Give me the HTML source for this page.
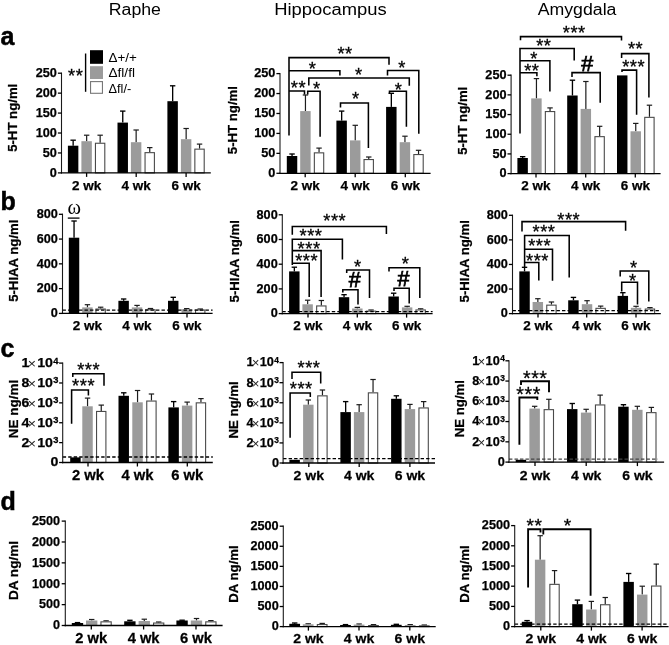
<!DOCTYPE html>
<html><head><meta charset="utf-8"><title>Figure</title>
<style>
html,body{margin:0;padding:0;background:#fff;}
svg{display:block;font-family:"Liberation Sans",sans-serif;fill:#000;}
</style></head>
<body>
<svg width="669" height="645" viewBox="0 0 669 645">
<rect x="0" y="0" width="669" height="645" fill="#fff"/>
<text x="108.74" y="14.8" font-size="17.3" font-weight="normal" textLength="52.25" lengthAdjust="spacingAndGlyphs" >Raphe</text>
<text x="274.18" y="14.8" font-size="17.3" font-weight="normal" textLength="112.45" lengthAdjust="spacingAndGlyphs" >Hippocampus</text>
<text x="537.66" y="14.8" font-size="17.3" font-weight="normal" textLength="78.78" lengthAdjust="spacingAndGlyphs" >Amygdala</text>
<text x="0.6" y="44.6" font-size="25" font-weight="bold" text-anchor="start" stroke="#000" stroke-width="0.5">a</text>
<text x="0.6" y="209.8" font-size="25" font-weight="bold" text-anchor="start" stroke="#000" stroke-width="0.5">b</text>
<text x="0.6" y="357" font-size="25" font-weight="bold" text-anchor="start" stroke="#000" stroke-width="0.5">c</text>
<text x="0.6" y="510.1" font-size="25" font-weight="bold" text-anchor="start" stroke="#000" stroke-width="0.5">d</text>
<line x1="73.15" y1="145.7" x2="73.15" y2="140.2" stroke="#000" stroke-width="1.35" />
<line x1="70.45" y1="140.2" x2="75.85" y2="140.2" stroke="#000" stroke-width="1.35" />
<rect x="67.9" y="145.7" width="10.45" height="27.2" fill="#000"/>
<line x1="86.65" y1="141.2" x2="86.65" y2="135.2" stroke="#1c1c1c" stroke-width="1.2" />
<line x1="83.95" y1="135.2" x2="89.35" y2="135.2" stroke="#1c1c1c" stroke-width="1.2" />
<rect x="81.4" y="141.2" width="10.45" height="31.7" fill="#9b9b9b"/>
<line x1="100.15" y1="142.7" x2="100.15" y2="135.2" stroke="#1c1c1c" stroke-width="1.2" />
<line x1="97.45" y1="135.2" x2="102.85" y2="135.2" stroke="#1c1c1c" stroke-width="1.2" />
<rect x="95.45" y="143.25" width="9.35" height="29.65" fill="#fff" stroke="#4a4a4a" stroke-width="1.1"/>
<line x1="122.75" y1="122.6" x2="122.75" y2="111.1" stroke="#000" stroke-width="1.35" />
<line x1="120.05" y1="111.1" x2="125.45" y2="111.1" stroke="#000" stroke-width="1.35" />
<rect x="117.5" y="122.6" width="10.45" height="50.3" fill="#000"/>
<line x1="136.15" y1="142.2" x2="136.15" y2="130" stroke="#1c1c1c" stroke-width="1.2" />
<line x1="133.45" y1="130" x2="138.85" y2="130" stroke="#1c1c1c" stroke-width="1.2" />
<rect x="130.9" y="142.2" width="10.45" height="30.7" fill="#9b9b9b"/>
<line x1="149.75" y1="152.1" x2="149.75" y2="147.6" stroke="#1c1c1c" stroke-width="1.2" />
<line x1="147.05" y1="147.6" x2="152.45" y2="147.6" stroke="#1c1c1c" stroke-width="1.2" />
<rect x="145.05" y="152.65" width="9.35" height="20.25" fill="#fff" stroke="#4a4a4a" stroke-width="1.1"/>
<line x1="172.65" y1="101.2" x2="172.65" y2="85.8" stroke="#000" stroke-width="1.35" />
<line x1="169.95" y1="85.8" x2="175.35" y2="85.8" stroke="#000" stroke-width="1.35" />
<rect x="167.4" y="101.2" width="10.45" height="71.7" fill="#000"/>
<line x1="186.15" y1="139.2" x2="186.15" y2="128.5" stroke="#1c1c1c" stroke-width="1.2" />
<line x1="183.45" y1="128.5" x2="188.85" y2="128.5" stroke="#1c1c1c" stroke-width="1.2" />
<rect x="180.9" y="139.2" width="10.45" height="33.7" fill="#9b9b9b"/>
<line x1="199.55" y1="148.6" x2="199.55" y2="144.1" stroke="#1c1c1c" stroke-width="1.2" />
<line x1="196.85" y1="144.1" x2="202.25" y2="144.1" stroke="#1c1c1c" stroke-width="1.2" />
<rect x="194.85" y="149.15" width="9.35" height="23.75" fill="#fff" stroke="#4a4a4a" stroke-width="1.1"/>
<line x1="61.5" y1="72.55" x2="61.5" y2="173.55" stroke="#1a1a1a" stroke-width="1.1" />
<line x1="60.85" y1="172.9" x2="210.8" y2="172.9" stroke="#000" stroke-width="1.3" />
<line x1="57.9" y1="172.9" x2="61.5" y2="172.9" stroke="#000" stroke-width="1.3" />
<text x="56.9" y="176.73" font-size="12.7" font-weight="bold" text-anchor="end" stroke="#000" stroke-width="0.25">0</text>
<line x1="57.9" y1="152.96" x2="61.5" y2="152.96" stroke="#000" stroke-width="1.3" />
<text x="56.9" y="156.79" font-size="12.7" font-weight="bold" text-anchor="end" stroke="#000" stroke-width="0.25">50</text>
<line x1="57.9" y1="133.02" x2="61.5" y2="133.02" stroke="#000" stroke-width="1.3" />
<text x="56.9" y="136.85" font-size="12.7" font-weight="bold" text-anchor="end" stroke="#000" stroke-width="0.25">100</text>
<line x1="57.9" y1="113.08" x2="61.5" y2="113.08" stroke="#000" stroke-width="1.3" />
<text x="56.9" y="116.91" font-size="12.7" font-weight="bold" text-anchor="end" stroke="#000" stroke-width="0.25">150</text>
<line x1="57.9" y1="93.14" x2="61.5" y2="93.14" stroke="#000" stroke-width="1.3" />
<text x="56.9" y="96.97" font-size="12.7" font-weight="bold" text-anchor="end" stroke="#000" stroke-width="0.25">200</text>
<line x1="57.9" y1="73.2" x2="61.5" y2="73.2" stroke="#000" stroke-width="1.3" />
<text x="56.9" y="77.03" font-size="12.7" font-weight="bold" text-anchor="end" stroke="#000" stroke-width="0.25">250</text>
<line x1="86.6" y1="172.9" x2="86.6" y2="176.9" stroke="#000" stroke-width="1.3" />
<text x="86.6" y="189.6" font-size="13.5" font-weight="bold" text-anchor="middle" stroke="#000" stroke-width="0.25">2 wk</text>
<line x1="136.2" y1="172.9" x2="136.2" y2="176.9" stroke="#000" stroke-width="1.3" />
<text x="136.2" y="189.6" font-size="13.5" font-weight="bold" text-anchor="middle" stroke="#000" stroke-width="0.25">4 wk</text>
<line x1="186.1" y1="172.9" x2="186.1" y2="176.9" stroke="#000" stroke-width="1.3" />
<text x="186.1" y="189.6" font-size="13.5" font-weight="bold" text-anchor="middle" stroke="#000" stroke-width="0.25">6 wk</text>
<text transform="translate(16.7,117.8) rotate(-90)" font-size="13.2" font-weight="bold" text-anchor="middle" stroke="#000" stroke-width="0.25">5-HT ng/ml</text>
<rect x="90" y="50.2" width="13" height="13.6" fill="#000"/>
<rect x="90" y="66.2" width="13" height="12.8" fill="#9b9b9b"/>
<rect x="90.55" y="81.6" width="11.9" height="11.7" fill="#fff" stroke="#777" stroke-width="1.1"/>
<line x1="85.6" y1="53.5" x2="85.6" y2="91.8" stroke="#000" stroke-width="1.4" />
<text x="75.78" y="82.19" font-size="18.3" font-weight="normal" text-anchor="middle" letter-spacing="0.55" stroke="#000" stroke-width="0.3">**</text>
<text x="108.5" y="62.2" font-size="12.7" font-weight="normal" textLength="28.36" lengthAdjust="spacingAndGlyphs" >Δ+/+</text>
<text x="108.49" y="77.4" font-size="12.7" font-weight="normal" textLength="26.44" lengthAdjust="spacingAndGlyphs" >Δfl/fl</text>
<text x="108.52" y="92.5" font-size="12.7" font-weight="normal" textLength="22.67" lengthAdjust="spacingAndGlyphs" >Δfl/-</text>
<line x1="292.05" y1="156" x2="292.05" y2="154" stroke="#000" stroke-width="1.35" />
<line x1="289.35" y1="154" x2="294.75" y2="154" stroke="#000" stroke-width="1.35" />
<rect x="286.8" y="156" width="10.45" height="17.3" fill="#000"/>
<line x1="305.45" y1="111.1" x2="305.45" y2="95" stroke="#1c1c1c" stroke-width="1.2" />
<line x1="302.75" y1="95" x2="308.15" y2="95" stroke="#1c1c1c" stroke-width="1.2" />
<rect x="300.2" y="111.1" width="10.45" height="62.2" fill="#9b9b9b"/>
<line x1="319.05" y1="152.3" x2="319.05" y2="148.1" stroke="#1c1c1c" stroke-width="1.2" />
<line x1="316.35" y1="148.1" x2="321.75" y2="148.1" stroke="#1c1c1c" stroke-width="1.2" />
<rect x="314.35" y="152.85" width="9.35" height="20.45" fill="#fff" stroke="#4a4a4a" stroke-width="1.1"/>
<line x1="341.65" y1="120.6" x2="341.65" y2="111.1" stroke="#000" stroke-width="1.35" />
<line x1="338.95" y1="111.1" x2="344.35" y2="111.1" stroke="#000" stroke-width="1.35" />
<rect x="336.4" y="120.6" width="10.45" height="52.7" fill="#000"/>
<line x1="355.25" y1="140.4" x2="355.25" y2="125.3" stroke="#1c1c1c" stroke-width="1.2" />
<line x1="352.55" y1="125.3" x2="357.95" y2="125.3" stroke="#1c1c1c" stroke-width="1.2" />
<rect x="350" y="140.4" width="10.45" height="32.9" fill="#9b9b9b"/>
<line x1="368.75" y1="159" x2="368.75" y2="157" stroke="#1c1c1c" stroke-width="1.2" />
<line x1="366.05" y1="157" x2="371.45" y2="157" stroke="#1c1c1c" stroke-width="1.2" />
<rect x="364.05" y="159.55" width="9.35" height="13.75" fill="#fff" stroke="#4a4a4a" stroke-width="1.1"/>
<line x1="391.35" y1="106.9" x2="391.35" y2="93.3" stroke="#000" stroke-width="1.35" />
<line x1="388.65" y1="93.3" x2="394.05" y2="93.3" stroke="#000" stroke-width="1.35" />
<rect x="386.1" y="106.9" width="10.45" height="66.4" fill="#000"/>
<line x1="404.95" y1="142.2" x2="404.95" y2="136.2" stroke="#1c1c1c" stroke-width="1.2" />
<line x1="402.25" y1="136.2" x2="407.65" y2="136.2" stroke="#1c1c1c" stroke-width="1.2" />
<rect x="399.7" y="142.2" width="10.45" height="31.1" fill="#9b9b9b"/>
<line x1="418.55" y1="154" x2="418.55" y2="150.3" stroke="#1c1c1c" stroke-width="1.2" />
<line x1="415.85" y1="150.3" x2="421.25" y2="150.3" stroke="#1c1c1c" stroke-width="1.2" />
<rect x="413.85" y="154.55" width="9.35" height="18.75" fill="#fff" stroke="#4a4a4a" stroke-width="1.1"/>
<line x1="280" y1="72.95" x2="280" y2="173.95" stroke="#1a1a1a" stroke-width="1.1" />
<line x1="279.35" y1="173.3" x2="430.6" y2="173.3" stroke="#000" stroke-width="1.3" />
<line x1="276.4" y1="173.3" x2="280" y2="173.3" stroke="#000" stroke-width="1.3" />
<text x="275.4" y="177.13" font-size="12.7" font-weight="bold" text-anchor="end" stroke="#000" stroke-width="0.25">0</text>
<line x1="276.4" y1="153.36" x2="280" y2="153.36" stroke="#000" stroke-width="1.3" />
<text x="275.4" y="157.19" font-size="12.7" font-weight="bold" text-anchor="end" stroke="#000" stroke-width="0.25">50</text>
<line x1="276.4" y1="133.42" x2="280" y2="133.42" stroke="#000" stroke-width="1.3" />
<text x="275.4" y="137.25" font-size="12.7" font-weight="bold" text-anchor="end" stroke="#000" stroke-width="0.25">100</text>
<line x1="276.4" y1="113.48" x2="280" y2="113.48" stroke="#000" stroke-width="1.3" />
<text x="275.4" y="117.31" font-size="12.7" font-weight="bold" text-anchor="end" stroke="#000" stroke-width="0.25">150</text>
<line x1="276.4" y1="93.54" x2="280" y2="93.54" stroke="#000" stroke-width="1.3" />
<text x="275.4" y="97.37" font-size="12.7" font-weight="bold" text-anchor="end" stroke="#000" stroke-width="0.25">200</text>
<line x1="276.4" y1="73.6" x2="280" y2="73.6" stroke="#000" stroke-width="1.3" />
<text x="275.4" y="77.43" font-size="12.7" font-weight="bold" text-anchor="end" stroke="#000" stroke-width="0.25">250</text>
<line x1="305.2" y1="173.3" x2="305.2" y2="177.3" stroke="#000" stroke-width="1.3" />
<text x="305.2" y="189.6" font-size="13.5" font-weight="bold" text-anchor="middle" stroke="#000" stroke-width="0.25">2 wk</text>
<line x1="355.2" y1="173.3" x2="355.2" y2="177.3" stroke="#000" stroke-width="1.3" />
<text x="355.2" y="189.6" font-size="13.5" font-weight="bold" text-anchor="middle" stroke="#000" stroke-width="0.25">4 wk</text>
<line x1="405.3" y1="173.3" x2="405.3" y2="177.3" stroke="#000" stroke-width="1.3" />
<text x="405.3" y="189.6" font-size="13.5" font-weight="bold" text-anchor="middle" stroke="#000" stroke-width="0.25">6 wk</text>
<text transform="translate(236.6,120.1) rotate(-90)" font-size="13.2" font-weight="bold" text-anchor="middle" stroke="#000" stroke-width="0.25">5-HT ng/ml</text>
<polyline points="289,135.5 289,57.6 389,57.6 389,64.7" fill="none" stroke="#000" stroke-width="1.55" stroke-linejoin="miter"/>
<text x="345.08" y="60.39" font-size="18.3" font-weight="normal" text-anchor="middle" letter-spacing="0.55" stroke="#000" stroke-width="0.3">**</text>
<polyline points="289,70.7 339.9,70.7 339.9,75.6" fill="none" stroke="#000" stroke-width="1.55" stroke-linejoin="miter"/>
<text x="312.58" y="74.69" font-size="18.3" font-weight="normal" text-anchor="middle" letter-spacing="0.55" stroke="#000" stroke-width="0.3">*</text>
<polyline points="289,90.9 304.5,90.9 304.5,94.5" fill="none" stroke="#000" stroke-width="1.55" stroke-linejoin="miter"/>
<text x="298.48" y="93.99" font-size="18.3" font-weight="normal" text-anchor="middle" letter-spacing="0.55" stroke="#000" stroke-width="0.3">**</text>
<polyline points="308.8,85.6 308.8,78 409.3,78 409.3,85.8" fill="none" stroke="#000" stroke-width="1.55" stroke-linejoin="miter"/>
<text x="358.78" y="81.39" font-size="18.3" font-weight="normal" text-anchor="middle" letter-spacing="0.55" stroke="#000" stroke-width="0.3">*</text>
<polyline points="307.7,94.5 307.7,91.3 320.1,91.3 320.1,136.7" fill="none" stroke="#000" stroke-width="1.55" stroke-linejoin="miter"/>
<text x="316.88" y="94.79" font-size="18.3" font-weight="normal" text-anchor="middle" letter-spacing="0.55" stroke="#000" stroke-width="0.3">*</text>
<polyline points="340.5,107.5 340.5,102.9 368.4,102.9 368.4,147.9" fill="none" stroke="#000" stroke-width="1.55" stroke-linejoin="miter"/>
<text x="355.78" y="105.19" font-size="18.3" font-weight="normal" text-anchor="middle" letter-spacing="0.55" stroke="#000" stroke-width="0.3">*</text>
<polyline points="387.5,75.5 387.5,70.5 418.8,70.5 418.8,133.7" fill="none" stroke="#000" stroke-width="1.55" stroke-linejoin="miter"/>
<text x="402.18" y="74.09" font-size="18.3" font-weight="normal" text-anchor="middle" letter-spacing="0.55" stroke="#000" stroke-width="0.3">*</text>
<polyline points="389.5,94 389.5,91.3 406.4,91.3 406.4,126.8" fill="none" stroke="#000" stroke-width="1.55" stroke-linejoin="miter"/>
<text x="398.48" y="95.99" font-size="18.3" font-weight="normal" text-anchor="middle" letter-spacing="0.55" stroke="#000" stroke-width="0.3">*</text>
<line x1="522.65" y1="158" x2="522.65" y2="156.7" stroke="#000" stroke-width="1.35" />
<line x1="519.95" y1="156.7" x2="525.35" y2="156.7" stroke="#000" stroke-width="1.35" />
<rect x="517.4" y="158" width="10.45" height="15.6" fill="#000"/>
<line x1="536.45" y1="98.4" x2="536.45" y2="78.6" stroke="#1c1c1c" stroke-width="1.2" />
<line x1="533.75" y1="78.6" x2="539.15" y2="78.6" stroke="#1c1c1c" stroke-width="1.2" />
<rect x="531.2" y="98.4" width="10.45" height="75.2" fill="#9b9b9b"/>
<line x1="550.05" y1="111" x2="550.05" y2="107.9" stroke="#1c1c1c" stroke-width="1.2" />
<line x1="547.35" y1="107.9" x2="552.75" y2="107.9" stroke="#1c1c1c" stroke-width="1.2" />
<rect x="545.35" y="111.55" width="9.35" height="62.05" fill="#fff" stroke="#4a4a4a" stroke-width="1.1"/>
<line x1="572.45" y1="95.5" x2="572.45" y2="80.2" stroke="#000" stroke-width="1.35" />
<line x1="569.75" y1="80.2" x2="575.15" y2="80.2" stroke="#000" stroke-width="1.35" />
<rect x="567.2" y="95.5" width="10.45" height="78.1" fill="#000"/>
<line x1="585.85" y1="108.9" x2="585.85" y2="81.5" stroke="#1c1c1c" stroke-width="1.2" />
<line x1="583.15" y1="81.5" x2="588.55" y2="81.5" stroke="#1c1c1c" stroke-width="1.2" />
<rect x="580.6" y="108.9" width="10.45" height="64.7" fill="#9b9b9b"/>
<line x1="599.65" y1="136.1" x2="599.65" y2="126.3" stroke="#1c1c1c" stroke-width="1.2" />
<line x1="596.95" y1="126.3" x2="602.35" y2="126.3" stroke="#1c1c1c" stroke-width="1.2" />
<rect x="594.95" y="136.65" width="9.35" height="36.95" fill="#fff" stroke="#4a4a4a" stroke-width="1.1"/>
<rect x="617" y="75.4" width="10.45" height="98.2" fill="#000"/>
<line x1="635.75" y1="131.3" x2="635.75" y2="123.4" stroke="#1c1c1c" stroke-width="1.2" />
<line x1="633.05" y1="123.4" x2="638.45" y2="123.4" stroke="#1c1c1c" stroke-width="1.2" />
<rect x="630.5" y="131.3" width="10.45" height="42.3" fill="#9b9b9b"/>
<line x1="649.45" y1="116.8" x2="649.45" y2="105.2" stroke="#1c1c1c" stroke-width="1.2" />
<line x1="646.75" y1="105.2" x2="652.15" y2="105.2" stroke="#1c1c1c" stroke-width="1.2" />
<rect x="644.75" y="117.35" width="9.35" height="56.25" fill="#fff" stroke="#4a4a4a" stroke-width="1.1"/>
<line x1="511.1" y1="74.55" x2="511.1" y2="174.25" stroke="#1a1a1a" stroke-width="1.1" />
<line x1="510.45" y1="173.6" x2="660.6" y2="173.6" stroke="#000" stroke-width="1.3" />
<line x1="507.5" y1="173.6" x2="511.1" y2="173.6" stroke="#000" stroke-width="1.3" />
<text x="506.5" y="177.43" font-size="12.7" font-weight="bold" text-anchor="end" stroke="#000" stroke-width="0.25">0</text>
<line x1="507.5" y1="153.92" x2="511.1" y2="153.92" stroke="#000" stroke-width="1.3" />
<text x="506.5" y="157.75" font-size="12.7" font-weight="bold" text-anchor="end" stroke="#000" stroke-width="0.25">50</text>
<line x1="507.5" y1="134.24" x2="511.1" y2="134.24" stroke="#000" stroke-width="1.3" />
<text x="506.5" y="138.07" font-size="12.7" font-weight="bold" text-anchor="end" stroke="#000" stroke-width="0.25">100</text>
<line x1="507.5" y1="114.56" x2="511.1" y2="114.56" stroke="#000" stroke-width="1.3" />
<text x="506.5" y="118.39" font-size="12.7" font-weight="bold" text-anchor="end" stroke="#000" stroke-width="0.25">150</text>
<line x1="507.5" y1="94.88" x2="511.1" y2="94.88" stroke="#000" stroke-width="1.3" />
<text x="506.5" y="98.71" font-size="12.7" font-weight="bold" text-anchor="end" stroke="#000" stroke-width="0.25">200</text>
<line x1="507.5" y1="75.2" x2="511.1" y2="75.2" stroke="#000" stroke-width="1.3" />
<text x="506.5" y="79.03" font-size="12.7" font-weight="bold" text-anchor="end" stroke="#000" stroke-width="0.25">250</text>
<line x1="536" y1="173.6" x2="536" y2="177.6" stroke="#000" stroke-width="1.3" />
<text x="536" y="189.8" font-size="13.5" font-weight="bold" text-anchor="middle" stroke="#000" stroke-width="0.25">2 wk</text>
<line x1="585.7" y1="173.6" x2="585.7" y2="177.6" stroke="#000" stroke-width="1.3" />
<text x="585.7" y="189.8" font-size="13.5" font-weight="bold" text-anchor="middle" stroke="#000" stroke-width="0.25">4 wk</text>
<line x1="635.3" y1="173.6" x2="635.3" y2="177.6" stroke="#000" stroke-width="1.3" />
<text x="635.3" y="189.8" font-size="13.5" font-weight="bold" text-anchor="middle" stroke="#000" stroke-width="0.25">6 wk</text>
<text transform="translate(466.7,120.8) rotate(-90)" font-size="13.2" font-weight="bold" text-anchor="middle" stroke="#000" stroke-width="0.25">5-HT ng/ml</text>
<polyline points="520.5,40.3 520.5,36.6 621.5,36.6 621.5,40.4" fill="none" stroke="#000" stroke-width="1.55" stroke-linejoin="miter"/>
<text x="574.28" y="38.99" font-size="18.3" font-weight="normal" text-anchor="middle" letter-spacing="0.55" stroke="#000" stroke-width="0.3">***</text>
<polyline points="520,133.5 520,48.4 574.2,48.4 574.2,60.6" fill="none" stroke="#000" stroke-width="1.55" stroke-linejoin="miter"/>
<text x="543.88" y="52.29" font-size="18.3" font-weight="normal" text-anchor="middle" letter-spacing="0.55" stroke="#000" stroke-width="0.3">**</text>
<polyline points="520,60.8 549.9,60.8 549.9,91.4" fill="none" stroke="#000" stroke-width="1.55" stroke-linejoin="miter"/>
<text x="533.98" y="65.19" font-size="18.3" font-weight="normal" text-anchor="middle" letter-spacing="0.55" stroke="#000" stroke-width="0.3">*</text>
<polyline points="520,72.8 536.9,72.8 536.9,76.2" fill="none" stroke="#000" stroke-width="1.55" stroke-linejoin="miter"/>
<text x="531.88" y="77.39" font-size="18.3" font-weight="normal" text-anchor="middle" letter-spacing="0.55" stroke="#000" stroke-width="0.3">**</text>
<polyline points="572,76.9 572,72.6 600.2,72.6 600.2,102.8" fill="none" stroke="#000" stroke-width="1.55" stroke-linejoin="miter"/>
<text x="587.3" y="70.95" font-size="21.5" font-weight="normal" text-anchor="middle" stroke="#000" stroke-width="0.75">#</text>
<polyline points="621.6,58 621.6,53.6 648.9,53.6 648.9,97.4" fill="none" stroke="#000" stroke-width="1.55" stroke-linejoin="miter"/>
<text x="635.58" y="55.49" font-size="18.3" font-weight="normal" text-anchor="middle" letter-spacing="0.55" stroke="#000" stroke-width="0.3">**</text>
<polyline points="622,72 622,70.1 636.6,70.1 636.6,114.8" fill="none" stroke="#000" stroke-width="1.55" stroke-linejoin="miter"/>
<text x="633.68" y="72.69" font-size="18.3" font-weight="normal" text-anchor="middle" letter-spacing="0.55" stroke="#000" stroke-width="0.3">***</text>
<line x1="74.05" y1="237.7" x2="74.05" y2="221" stroke="#000" stroke-width="1.35" />
<line x1="71.35" y1="221" x2="76.75" y2="221" stroke="#000" stroke-width="1.35" />
<rect x="68.8" y="237.7" width="10.45" height="75.7" fill="#000"/>
<line x1="87.45" y1="307.4" x2="87.45" y2="304.7" stroke="#1c1c1c" stroke-width="1.2" />
<line x1="84.75" y1="304.7" x2="90.15" y2="304.7" stroke="#1c1c1c" stroke-width="1.2" />
<rect x="82.2" y="307.4" width="10.45" height="6" fill="#9b9b9b"/>
<line x1="100.65" y1="308.5" x2="100.65" y2="307.2" stroke="#1c1c1c" stroke-width="1.2" />
<line x1="97.95" y1="307.2" x2="103.35" y2="307.2" stroke="#1c1c1c" stroke-width="1.2" />
<rect x="95.95" y="309.05" width="9.35" height="4.35" fill="#fff" stroke="#4a4a4a" stroke-width="1.1"/>
<line x1="123.65" y1="300.8" x2="123.65" y2="299" stroke="#000" stroke-width="1.35" />
<line x1="120.95" y1="299" x2="126.35" y2="299" stroke="#000" stroke-width="1.35" />
<rect x="118.4" y="300.8" width="10.45" height="12.6" fill="#000"/>
<line x1="137.05" y1="307.4" x2="137.05" y2="305.4" stroke="#1c1c1c" stroke-width="1.2" />
<line x1="134.35" y1="305.4" x2="139.75" y2="305.4" stroke="#1c1c1c" stroke-width="1.2" />
<rect x="131.8" y="307.4" width="10.45" height="6" fill="#9b9b9b"/>
<line x1="150.45" y1="309.2" x2="150.45" y2="308.5" stroke="#1c1c1c" stroke-width="1.2" />
<line x1="147.75" y1="308.5" x2="153.15" y2="308.5" stroke="#1c1c1c" stroke-width="1.2" />
<rect x="145.75" y="309.75" width="9.35" height="3.65" fill="#fff" stroke="#4a4a4a" stroke-width="1.1"/>
<line x1="173.25" y1="300.8" x2="173.25" y2="297.3" stroke="#000" stroke-width="1.35" />
<line x1="170.55" y1="297.3" x2="175.95" y2="297.3" stroke="#000" stroke-width="1.35" />
<rect x="168" y="300.8" width="10.45" height="12.6" fill="#000"/>
<line x1="186.75" y1="309.2" x2="186.75" y2="308.6" stroke="#1c1c1c" stroke-width="1.2" />
<line x1="184.05" y1="308.6" x2="189.45" y2="308.6" stroke="#1c1c1c" stroke-width="1.2" />
<rect x="181.5" y="309.2" width="10.45" height="4.2" fill="#9b9b9b"/>
<line x1="200.25" y1="309.5" x2="200.25" y2="309" stroke="#1c1c1c" stroke-width="1.2" />
<line x1="197.55" y1="309" x2="202.95" y2="309" stroke="#1c1c1c" stroke-width="1.2" />
<rect x="195.55" y="310.05" width="9.35" height="3.35" fill="#fff" stroke="#4a4a4a" stroke-width="1.1"/>
<line x1="62.5" y1="310.2" x2="212.6" y2="310.2" stroke="#000" stroke-width="1.2" stroke-dasharray="3.4 2.1"/>
<line x1="62.5" y1="213.65" x2="62.5" y2="314.05" stroke="#1a1a1a" stroke-width="1.1" />
<line x1="61.85" y1="313.4" x2="212.6" y2="313.4" stroke="#000" stroke-width="1.3" />
<line x1="58.9" y1="313.4" x2="62.5" y2="313.4" stroke="#000" stroke-width="1.3" />
<text x="57.9" y="317.23" font-size="12.7" font-weight="bold" text-anchor="end" stroke="#000" stroke-width="0.25">0</text>
<line x1="58.9" y1="288.62" x2="62.5" y2="288.62" stroke="#000" stroke-width="1.3" />
<text x="57.9" y="292.46" font-size="12.7" font-weight="bold" text-anchor="end" stroke="#000" stroke-width="0.25">200</text>
<line x1="58.9" y1="263.85" x2="62.5" y2="263.85" stroke="#000" stroke-width="1.3" />
<text x="57.9" y="267.68" font-size="12.7" font-weight="bold" text-anchor="end" stroke="#000" stroke-width="0.25">400</text>
<line x1="58.9" y1="239.07" x2="62.5" y2="239.07" stroke="#000" stroke-width="1.3" />
<text x="57.9" y="242.91" font-size="12.7" font-weight="bold" text-anchor="end" stroke="#000" stroke-width="0.25">600</text>
<line x1="58.9" y1="214.3" x2="62.5" y2="214.3" stroke="#000" stroke-width="1.3" />
<text x="57.9" y="218.13" font-size="12.7" font-weight="bold" text-anchor="end" stroke="#000" stroke-width="0.25">800</text>
<line x1="87.5" y1="313.4" x2="87.5" y2="317.4" stroke="#000" stroke-width="1.3" />
<text x="87.5" y="330" font-size="13.5" font-weight="bold" text-anchor="middle" stroke="#000" stroke-width="0.25">2 wk</text>
<line x1="137" y1="313.4" x2="137" y2="317.4" stroke="#000" stroke-width="1.3" />
<text x="137" y="330" font-size="13.5" font-weight="bold" text-anchor="middle" stroke="#000" stroke-width="0.25">4 wk</text>
<line x1="187" y1="313.4" x2="187" y2="317.4" stroke="#000" stroke-width="1.3" />
<text x="187" y="330" font-size="13.5" font-weight="bold" text-anchor="middle" stroke="#000" stroke-width="0.25">6 wk</text>
<text transform="translate(17.8,260.7) rotate(-90)" font-size="13.2" font-weight="bold" text-anchor="middle" stroke="#000" stroke-width="0.25">5-HIAA ng/ml</text>
<line x1="67.8" y1="218.1" x2="79.5" y2="218.1" stroke="#000" stroke-width="1.3" />
<text x="74.2" y="214.2" font-size="20.5" font-weight="normal" text-anchor="middle" font-family="Liberation Serif,serif">ω</text>
<line x1="294.35" y1="271.4" x2="294.35" y2="267.2" stroke="#000" stroke-width="1.35" />
<line x1="291.65" y1="267.2" x2="297.05" y2="267.2" stroke="#000" stroke-width="1.35" />
<rect x="289.1" y="271.4" width="10.45" height="42.2" fill="#000"/>
<line x1="307.65" y1="304.3" x2="307.65" y2="300.2" stroke="#1c1c1c" stroke-width="1.2" />
<line x1="304.95" y1="300.2" x2="310.35" y2="300.2" stroke="#1c1c1c" stroke-width="1.2" />
<rect x="302.4" y="304.3" width="10.45" height="9.3" fill="#9b9b9b"/>
<line x1="321.35" y1="305.4" x2="321.35" y2="300.5" stroke="#1c1c1c" stroke-width="1.2" />
<line x1="318.65" y1="300.5" x2="324.05" y2="300.5" stroke="#1c1c1c" stroke-width="1.2" />
<rect x="316.65" y="305.95" width="9.35" height="7.65" fill="#fff" stroke="#4a4a4a" stroke-width="1.1"/>
<line x1="344.05" y1="297.2" x2="344.05" y2="294.7" stroke="#000" stroke-width="1.35" />
<line x1="341.35" y1="294.7" x2="346.75" y2="294.7" stroke="#000" stroke-width="1.35" />
<rect x="338.8" y="297.2" width="10.45" height="16.4" fill="#000"/>
<line x1="357.35" y1="308.5" x2="357.35" y2="307.4" stroke="#1c1c1c" stroke-width="1.2" />
<line x1="354.65" y1="307.4" x2="360.05" y2="307.4" stroke="#1c1c1c" stroke-width="1.2" />
<rect x="352.1" y="308.5" width="10.45" height="5.1" fill="#9b9b9b"/>
<line x1="371.05" y1="310.6" x2="371.05" y2="310" stroke="#1c1c1c" stroke-width="1.2" />
<line x1="368.35" y1="310" x2="373.75" y2="310" stroke="#1c1c1c" stroke-width="1.2" />
<rect x="366.35" y="311.15" width="9.35" height="2.45" fill="#fff" stroke="#4a4a4a" stroke-width="1.1"/>
<line x1="393.65" y1="296.5" x2="393.65" y2="293.2" stroke="#000" stroke-width="1.35" />
<line x1="390.95" y1="293.2" x2="396.35" y2="293.2" stroke="#000" stroke-width="1.35" />
<rect x="388.4" y="296.5" width="10.45" height="17.1" fill="#000"/>
<line x1="407.15" y1="307.4" x2="407.15" y2="306.3" stroke="#1c1c1c" stroke-width="1.2" />
<line x1="404.45" y1="306.3" x2="409.85" y2="306.3" stroke="#1c1c1c" stroke-width="1.2" />
<rect x="401.9" y="307.4" width="10.45" height="6.2" fill="#9b9b9b"/>
<line x1="420.65" y1="309.4" x2="420.65" y2="308.8" stroke="#1c1c1c" stroke-width="1.2" />
<line x1="417.95" y1="308.8" x2="423.35" y2="308.8" stroke="#1c1c1c" stroke-width="1.2" />
<rect x="415.95" y="309.95" width="9.35" height="3.65" fill="#fff" stroke="#4a4a4a" stroke-width="1.1"/>
<line x1="282.3" y1="311.6" x2="432.6" y2="311.6" stroke="#000" stroke-width="1.2" stroke-dasharray="3.4 2.1"/>
<line x1="282.3" y1="214.15" x2="282.3" y2="314.25" stroke="#1a1a1a" stroke-width="1.1" />
<line x1="281.65" y1="313.6" x2="432.6" y2="313.6" stroke="#000" stroke-width="1.3" />
<line x1="278.7" y1="313.6" x2="282.3" y2="313.6" stroke="#000" stroke-width="1.3" />
<text x="277.7" y="317.43" font-size="12.7" font-weight="bold" text-anchor="end" stroke="#000" stroke-width="0.25">0</text>
<line x1="278.7" y1="288.9" x2="282.3" y2="288.9" stroke="#000" stroke-width="1.3" />
<text x="277.7" y="292.73" font-size="12.7" font-weight="bold" text-anchor="end" stroke="#000" stroke-width="0.25">200</text>
<line x1="278.7" y1="264.2" x2="282.3" y2="264.2" stroke="#000" stroke-width="1.3" />
<text x="277.7" y="268.03" font-size="12.7" font-weight="bold" text-anchor="end" stroke="#000" stroke-width="0.25">400</text>
<line x1="278.7" y1="239.5" x2="282.3" y2="239.5" stroke="#000" stroke-width="1.3" />
<text x="277.7" y="243.33" font-size="12.7" font-weight="bold" text-anchor="end" stroke="#000" stroke-width="0.25">600</text>
<line x1="278.7" y1="214.8" x2="282.3" y2="214.8" stroke="#000" stroke-width="1.3" />
<text x="277.7" y="218.63" font-size="12.7" font-weight="bold" text-anchor="end" stroke="#000" stroke-width="0.25">800</text>
<line x1="308" y1="313.6" x2="308" y2="317.6" stroke="#000" stroke-width="1.3" />
<text x="308" y="330.3" font-size="13.5" font-weight="bold" text-anchor="middle" stroke="#000" stroke-width="0.25">2 wk</text>
<line x1="357.3" y1="313.6" x2="357.3" y2="317.6" stroke="#000" stroke-width="1.3" />
<text x="357.3" y="330.3" font-size="13.5" font-weight="bold" text-anchor="middle" stroke="#000" stroke-width="0.25">4 wk</text>
<line x1="406.6" y1="313.6" x2="406.6" y2="317.6" stroke="#000" stroke-width="1.3" />
<text x="406.6" y="330.3" font-size="13.5" font-weight="bold" text-anchor="middle" stroke="#000" stroke-width="0.25">6 wk</text>
<text transform="translate(238.6,261.3) rotate(-90)" font-size="13.2" font-weight="bold" text-anchor="middle" stroke="#000" stroke-width="0.25">5-HIAA ng/ml</text>
<polyline points="292.3,234.7 292.3,226.5 386.4,226.5 386.4,234.1" fill="none" stroke="#000" stroke-width="1.55" stroke-linejoin="miter"/>
<text x="334.78" y="227.19" font-size="18.3" font-weight="normal" text-anchor="middle" letter-spacing="0.55" stroke="#000" stroke-width="0.3">***</text>
<polyline points="292.3,265 292.3,239.3 342.4,239.3 342.4,259.5" fill="none" stroke="#000" stroke-width="1.55" stroke-linejoin="miter"/>
<text x="310.98" y="241.69" font-size="18.3" font-weight="normal" text-anchor="middle" letter-spacing="0.55" stroke="#000" stroke-width="0.3">***</text>
<polyline points="292.3,250.6 321.1,250.6 321.1,297" fill="none" stroke="#000" stroke-width="1.55" stroke-linejoin="miter"/>
<text x="309.08" y="255.39" font-size="18.3" font-weight="normal" text-anchor="middle" letter-spacing="0.55" stroke="#000" stroke-width="0.3">***</text>
<polyline points="292.3,263.2 309.2,263.2 309.2,297" fill="none" stroke="#000" stroke-width="1.55" stroke-linejoin="miter"/>
<text x="306.68" y="267.29" font-size="18.3" font-weight="normal" text-anchor="middle" letter-spacing="0.55" stroke="#000" stroke-width="0.3">***</text>
<polyline points="346.7,273 346.7,269.9 369.5,269.9 369.5,298" fill="none" stroke="#000" stroke-width="1.55" stroke-linejoin="miter"/>
<text x="357.88" y="272.79" font-size="18.3" font-weight="normal" text-anchor="middle" letter-spacing="0.55" stroke="#000" stroke-width="0.3">*</text>
<polyline points="342.8,292.4 342.8,289.8 358,289.8 358,304.6" fill="none" stroke="#000" stroke-width="1.55" stroke-linejoin="miter"/>
<text x="354.7" y="287.35" font-size="21.5" font-weight="normal" text-anchor="middle" stroke="#000" stroke-width="0.75">#</text>
<polyline points="389,271.4 389,267.7 419.8,267.7 419.8,298" fill="none" stroke="#000" stroke-width="1.55" stroke-linejoin="miter"/>
<text x="405.58" y="270.19" font-size="18.3" font-weight="normal" text-anchor="middle" letter-spacing="0.55" stroke="#000" stroke-width="0.3">*</text>
<polyline points="394,291.1 394,288.3 409.2,288.3 409.2,303.5" fill="none" stroke="#000" stroke-width="1.55" stroke-linejoin="miter"/>
<text x="403.6" y="285.65" font-size="21.5" font-weight="normal" text-anchor="middle" stroke="#000" stroke-width="0.75">#</text>
<line x1="524.55" y1="271.4" x2="524.55" y2="267.3" stroke="#000" stroke-width="1.35" />
<line x1="521.85" y1="267.3" x2="527.25" y2="267.3" stroke="#000" stroke-width="1.35" />
<rect x="519.3" y="271.4" width="10.45" height="42.2" fill="#000"/>
<line x1="537.85" y1="302" x2="537.85" y2="298.7" stroke="#1c1c1c" stroke-width="1.2" />
<line x1="535.15" y1="298.7" x2="540.55" y2="298.7" stroke="#1c1c1c" stroke-width="1.2" />
<rect x="532.6" y="302" width="10.45" height="11.6" fill="#9b9b9b"/>
<line x1="551.45" y1="304.6" x2="551.45" y2="302" stroke="#1c1c1c" stroke-width="1.2" />
<line x1="548.75" y1="302" x2="554.15" y2="302" stroke="#1c1c1c" stroke-width="1.2" />
<rect x="546.75" y="305.15" width="9.35" height="8.45" fill="#fff" stroke="#4a4a4a" stroke-width="1.1"/>
<line x1="573.45" y1="300.3" x2="573.45" y2="297.4" stroke="#000" stroke-width="1.35" />
<line x1="570.75" y1="297.4" x2="576.15" y2="297.4" stroke="#000" stroke-width="1.35" />
<rect x="568.2" y="300.3" width="10.45" height="13.3" fill="#000"/>
<line x1="587.05" y1="304.2" x2="587.05" y2="300.7" stroke="#1c1c1c" stroke-width="1.2" />
<line x1="584.35" y1="300.7" x2="589.75" y2="300.7" stroke="#1c1c1c" stroke-width="1.2" />
<rect x="581.8" y="304.2" width="10.45" height="9.4" fill="#9b9b9b"/>
<line x1="600.65" y1="307.8" x2="600.65" y2="306.1" stroke="#1c1c1c" stroke-width="1.2" />
<line x1="597.95" y1="306.1" x2="603.35" y2="306.1" stroke="#1c1c1c" stroke-width="1.2" />
<rect x="595.95" y="308.35" width="9.35" height="5.25" fill="#fff" stroke="#4a4a4a" stroke-width="1.1"/>
<line x1="622.85" y1="295.9" x2="622.85" y2="292.7" stroke="#000" stroke-width="1.35" />
<line x1="620.15" y1="292.7" x2="625.55" y2="292.7" stroke="#000" stroke-width="1.35" />
<rect x="617.6" y="295.9" width="10.45" height="17.7" fill="#000"/>
<line x1="636.05" y1="307.8" x2="636.05" y2="306.3" stroke="#1c1c1c" stroke-width="1.2" />
<line x1="633.35" y1="306.3" x2="638.75" y2="306.3" stroke="#1c1c1c" stroke-width="1.2" />
<rect x="630.8" y="307.8" width="10.45" height="5.8" fill="#9b9b9b"/>
<line x1="649.95" y1="308.5" x2="649.95" y2="307.6" stroke="#1c1c1c" stroke-width="1.2" />
<line x1="647.25" y1="307.6" x2="652.65" y2="307.6" stroke="#1c1c1c" stroke-width="1.2" />
<rect x="645.25" y="309.05" width="9.35" height="4.55" fill="#fff" stroke="#4a4a4a" stroke-width="1.1"/>
<line x1="512.5" y1="310.7" x2="660.8" y2="310.7" stroke="#000" stroke-width="1.2" stroke-dasharray="3.4 2.1"/>
<line x1="512.5" y1="214.65" x2="512.5" y2="314.25" stroke="#1a1a1a" stroke-width="1.1" />
<line x1="511.85" y1="313.6" x2="660.8" y2="313.6" stroke="#000" stroke-width="1.3" />
<line x1="508.9" y1="313.6" x2="512.5" y2="313.6" stroke="#000" stroke-width="1.3" />
<text x="507.9" y="317.43" font-size="12.7" font-weight="bold" text-anchor="end" stroke="#000" stroke-width="0.25">0</text>
<line x1="508.9" y1="289.03" x2="512.5" y2="289.03" stroke="#000" stroke-width="1.3" />
<text x="507.9" y="292.86" font-size="12.7" font-weight="bold" text-anchor="end" stroke="#000" stroke-width="0.25">200</text>
<line x1="508.9" y1="264.45" x2="512.5" y2="264.45" stroke="#000" stroke-width="1.3" />
<text x="507.9" y="268.28" font-size="12.7" font-weight="bold" text-anchor="end" stroke="#000" stroke-width="0.25">400</text>
<line x1="508.9" y1="239.88" x2="512.5" y2="239.88" stroke="#000" stroke-width="1.3" />
<text x="507.9" y="243.71" font-size="12.7" font-weight="bold" text-anchor="end" stroke="#000" stroke-width="0.25">600</text>
<line x1="508.9" y1="215.3" x2="512.5" y2="215.3" stroke="#000" stroke-width="1.3" />
<text x="507.9" y="219.13" font-size="12.7" font-weight="bold" text-anchor="end" stroke="#000" stroke-width="0.25">800</text>
<line x1="538" y1="313.6" x2="538" y2="317.6" stroke="#000" stroke-width="1.3" />
<text x="538" y="330.3" font-size="13.5" font-weight="bold" text-anchor="middle" stroke="#000" stroke-width="0.25">2 wk</text>
<line x1="586.7" y1="313.6" x2="586.7" y2="317.6" stroke="#000" stroke-width="1.3" />
<text x="586.7" y="330.3" font-size="13.5" font-weight="bold" text-anchor="middle" stroke="#000" stroke-width="0.25">4 wk</text>
<line x1="636" y1="313.6" x2="636" y2="317.6" stroke="#000" stroke-width="1.3" />
<text x="636" y="330.3" font-size="13.5" font-weight="bold" text-anchor="middle" stroke="#000" stroke-width="0.25">6 wk</text>
<text transform="translate(469.2,261.3) rotate(-90)" font-size="13.2" font-weight="bold" text-anchor="middle" stroke="#000" stroke-width="0.25">5-HIAA ng/ml</text>
<polyline points="522,231.5 522,221.6 625.6,221.6 625.6,230.8" fill="none" stroke="#000" stroke-width="1.55" stroke-linejoin="miter"/>
<text x="568.78" y="225.69" font-size="18.3" font-weight="normal" text-anchor="middle" letter-spacing="0.55" stroke="#000" stroke-width="0.3">***</text>
<polyline points="524.6,267.7 524.6,235.5 569.2,235.5 569.2,277.5" fill="none" stroke="#000" stroke-width="1.55" stroke-linejoin="miter"/>
<text x="543.98" y="237.99" font-size="18.3" font-weight="normal" text-anchor="middle" letter-spacing="0.55" stroke="#000" stroke-width="0.3">***</text>
<polyline points="524.6,249.2 552.5,249.2 552.5,280.7" fill="none" stroke="#000" stroke-width="1.55" stroke-linejoin="miter"/>
<text x="539.68" y="252.09" font-size="18.3" font-weight="normal" text-anchor="middle" letter-spacing="0.55" stroke="#000" stroke-width="0.3">***</text>
<polyline points="524.6,262.4 538.8,262.4 538.8,280.6" fill="none" stroke="#000" stroke-width="1.55" stroke-linejoin="miter"/>
<text x="537.48" y="266.69" font-size="18.3" font-weight="normal" text-anchor="middle" letter-spacing="0.55" stroke="#000" stroke-width="0.3">***</text>
<polyline points="620.2,276.4 620.2,270.9 648.8,270.9 648.8,301.5" fill="none" stroke="#000" stroke-width="1.55" stroke-linejoin="miter"/>
<text x="633.88" y="274.29" font-size="18.3" font-weight="normal" text-anchor="middle" letter-spacing="0.55" stroke="#000" stroke-width="0.3">*</text>
<polyline points="621.7,291.6 621.7,282.2 637.5,282.2 637.5,304.6" fill="none" stroke="#000" stroke-width="1.55" stroke-linejoin="miter"/>
<text x="632.88" y="286.89" font-size="18.3" font-weight="normal" text-anchor="middle" letter-spacing="0.55" stroke="#000" stroke-width="0.3">*</text>
<rect x="70.2" y="457.4" width="10.45" height="5.1" fill="#000"/>
<line x1="87.55" y1="406.3" x2="87.55" y2="398.1" stroke="#1c1c1c" stroke-width="1.2" />
<line x1="84.85" y1="398.1" x2="90.25" y2="398.1" stroke="#1c1c1c" stroke-width="1.2" />
<rect x="82.3" y="406.3" width="10.45" height="56.2" fill="#9b9b9b"/>
<line x1="101.25" y1="410.9" x2="101.25" y2="405.1" stroke="#1c1c1c" stroke-width="1.2" />
<line x1="98.55" y1="405.1" x2="103.95" y2="405.1" stroke="#1c1c1c" stroke-width="1.2" />
<rect x="96.55" y="411.45" width="9.35" height="51.05" fill="#fff" stroke="#4a4a4a" stroke-width="1.1"/>
<line x1="123.75" y1="395.8" x2="123.75" y2="392.8" stroke="#000" stroke-width="1.35" />
<line x1="121.05" y1="392.8" x2="126.45" y2="392.8" stroke="#000" stroke-width="1.35" />
<rect x="118.5" y="395.8" width="10.45" height="66.7" fill="#000"/>
<line x1="137.55" y1="402.3" x2="137.55" y2="390.5" stroke="#1c1c1c" stroke-width="1.2" />
<line x1="134.85" y1="390.5" x2="140.25" y2="390.5" stroke="#1c1c1c" stroke-width="1.2" />
<rect x="132.3" y="402.3" width="10.45" height="60.2" fill="#9b9b9b"/>
<line x1="151.45" y1="400.5" x2="151.45" y2="394" stroke="#1c1c1c" stroke-width="1.2" />
<line x1="148.75" y1="394" x2="154.15" y2="394" stroke="#1c1c1c" stroke-width="1.2" />
<rect x="146.75" y="401.05" width="9.35" height="61.45" fill="#fff" stroke="#4a4a4a" stroke-width="1.1"/>
<line x1="173.65" y1="407.4" x2="173.65" y2="401.6" stroke="#000" stroke-width="1.35" />
<line x1="170.95" y1="401.6" x2="176.35" y2="401.6" stroke="#000" stroke-width="1.35" />
<rect x="168.4" y="407.4" width="10.45" height="55.1" fill="#000"/>
<line x1="187.15" y1="405.6" x2="187.15" y2="402.1" stroke="#1c1c1c" stroke-width="1.2" />
<line x1="184.45" y1="402.1" x2="189.85" y2="402.1" stroke="#1c1c1c" stroke-width="1.2" />
<rect x="181.9" y="405.6" width="10.45" height="56.9" fill="#9b9b9b"/>
<line x1="200.95" y1="402.3" x2="200.95" y2="398.6" stroke="#1c1c1c" stroke-width="1.2" />
<line x1="198.25" y1="398.6" x2="203.65" y2="398.6" stroke="#1c1c1c" stroke-width="1.2" />
<rect x="196.25" y="402.85" width="9.35" height="59.65" fill="#fff" stroke="#4a4a4a" stroke-width="1.1"/>
<line x1="62.7" y1="457" x2="212.8" y2="457" stroke="#000" stroke-width="1.5" stroke-dasharray="3.4 2.1"/>
<line x1="62.7" y1="362.45" x2="62.7" y2="463.15" stroke="#1a1a1a" stroke-width="1.1" />
<line x1="62.05" y1="462.5" x2="212.8" y2="462.5" stroke="#000" stroke-width="1.3" />
<line x1="59.1" y1="462.5" x2="62.7" y2="462.5" stroke="#000" stroke-width="1.3" />
<text transform="translate(58.5,466.44) scale(1.09,1)" font-size="13" font-weight="bold" text-anchor="end" stroke="#000" stroke-width="0.25">0</text>
<line x1="59.1" y1="442.62" x2="62.7" y2="442.62" stroke="#000" stroke-width="1.3" />
<text transform="translate(58.5,443.02) scale(1.09,1)" font-size="8.58" font-weight="bold" text-anchor="end" stroke="#000" stroke-width="0.25">3</text>
<text transform="translate(52.9,446.56) scale(1.09,1)" font-size="13" font-weight="bold" text-anchor="end" stroke="#000" stroke-width="0.25">10</text>
<text transform="translate(31.92,447.56) scale(1.09,1)" font-size="13" font-weight="normal" text-anchor="middle" fill="#222">×</text>
<text transform="translate(29.39,446.56) scale(1.09,1)" font-size="13" font-weight="bold" text-anchor="end" stroke="#000" stroke-width="0.25">2</text>
<line x1="59.1" y1="422.74" x2="62.7" y2="422.74" stroke="#000" stroke-width="1.3" />
<text transform="translate(58.5,423.14) scale(1.09,1)" font-size="8.58" font-weight="bold" text-anchor="end" stroke="#000" stroke-width="0.25">3</text>
<text transform="translate(52.9,426.68) scale(1.09,1)" font-size="13" font-weight="bold" text-anchor="end" stroke="#000" stroke-width="0.25">10</text>
<text transform="translate(31.92,427.68) scale(1.09,1)" font-size="13" font-weight="normal" text-anchor="middle" fill="#222">×</text>
<text transform="translate(29.39,426.68) scale(1.09,1)" font-size="13" font-weight="bold" text-anchor="end" stroke="#000" stroke-width="0.25">4</text>
<line x1="59.1" y1="402.86" x2="62.7" y2="402.86" stroke="#000" stroke-width="1.3" />
<text transform="translate(58.5,403.26) scale(1.09,1)" font-size="8.58" font-weight="bold" text-anchor="end" stroke="#000" stroke-width="0.25">3</text>
<text transform="translate(52.9,406.8) scale(1.09,1)" font-size="13" font-weight="bold" text-anchor="end" stroke="#000" stroke-width="0.25">10</text>
<text transform="translate(31.92,407.8) scale(1.09,1)" font-size="13" font-weight="normal" text-anchor="middle" fill="#222">×</text>
<text transform="translate(29.39,406.8) scale(1.09,1)" font-size="13" font-weight="bold" text-anchor="end" stroke="#000" stroke-width="0.25">6</text>
<line x1="59.1" y1="382.98" x2="62.7" y2="382.98" stroke="#000" stroke-width="1.3" />
<text transform="translate(58.5,383.38) scale(1.09,1)" font-size="8.58" font-weight="bold" text-anchor="end" stroke="#000" stroke-width="0.25">3</text>
<text transform="translate(52.9,386.92) scale(1.09,1)" font-size="13" font-weight="bold" text-anchor="end" stroke="#000" stroke-width="0.25">10</text>
<text transform="translate(31.92,387.92) scale(1.09,1)" font-size="13" font-weight="normal" text-anchor="middle" fill="#222">×</text>
<text transform="translate(29.39,386.92) scale(1.09,1)" font-size="13" font-weight="bold" text-anchor="end" stroke="#000" stroke-width="0.25">8</text>
<line x1="59.1" y1="363.1" x2="62.7" y2="363.1" stroke="#000" stroke-width="1.3" />
<text transform="translate(58.5,363.5) scale(1.09,1)" font-size="8.58" font-weight="bold" text-anchor="end" stroke="#000" stroke-width="0.25">4</text>
<text transform="translate(52.9,367.04) scale(1.09,1)" font-size="13" font-weight="bold" text-anchor="end" stroke="#000" stroke-width="0.25">10</text>
<text transform="translate(31.92,368.04) scale(1.09,1)" font-size="13" font-weight="normal" text-anchor="middle" fill="#222">×</text>
<text transform="translate(29.39,367.04) scale(1.09,1)" font-size="13" font-weight="bold" text-anchor="end" stroke="#000" stroke-width="0.25">1</text>
<line x1="88" y1="462.5" x2="88" y2="466.5" stroke="#000" stroke-width="1.3" />
<text transform="translate(88,480.3) scale(1.07,1)" font-size="13.8" font-weight="bold" text-anchor="middle" stroke="#000" stroke-width="0.25">2 wk</text>
<line x1="137.4" y1="462.5" x2="137.4" y2="466.5" stroke="#000" stroke-width="1.3" />
<text transform="translate(137.4,480.3) scale(1.07,1)" font-size="13.8" font-weight="bold" text-anchor="middle" stroke="#000" stroke-width="0.25">4 wk</text>
<line x1="187.3" y1="462.5" x2="187.3" y2="466.5" stroke="#000" stroke-width="1.3" />
<text transform="translate(187.3,480.3) scale(1.07,1)" font-size="13.8" font-weight="bold" text-anchor="middle" stroke="#000" stroke-width="0.25">6 wk</text>
<text transform="translate(18,409.1) rotate(-90)" font-size="13.5" font-weight="bold" text-anchor="middle" stroke="#000" stroke-width="0.25">NE ng/ml</text>
<polyline points="72.8,377 72.8,373.7 104,373.7 104,385.8" fill="none" stroke="#000" stroke-width="1.55" stroke-linejoin="miter"/>
<text x="88.68" y="376.09" font-size="18.3" font-weight="normal" text-anchor="middle" letter-spacing="0.55" stroke="#000" stroke-width="0.3">***</text>
<polyline points="71.6,423.7 71.6,390 88.4,390 88.4,395.5" fill="none" stroke="#000" stroke-width="1.55" stroke-linejoin="miter"/>
<text x="83.58" y="392.39" font-size="18.3" font-weight="normal" text-anchor="middle" letter-spacing="0.55" stroke="#000" stroke-width="0.3">***</text>
<rect x="289.4" y="459.8" width="10.45" height="3.2" fill="#000"/>
<line x1="308.35" y1="404.7" x2="308.35" y2="400" stroke="#1c1c1c" stroke-width="1.2" />
<line x1="305.65" y1="400" x2="311.05" y2="400" stroke="#1c1c1c" stroke-width="1.2" />
<rect x="303.1" y="404.7" width="10.45" height="58.3" fill="#9b9b9b"/>
<line x1="322.45" y1="395.3" x2="322.45" y2="390" stroke="#1c1c1c" stroke-width="1.2" />
<line x1="319.75" y1="390" x2="325.15" y2="390" stroke="#1c1c1c" stroke-width="1.2" />
<rect x="317.75" y="395.85" width="9.35" height="67.15" fill="#fff" stroke="#4a4a4a" stroke-width="1.1"/>
<line x1="345.65" y1="412.1" x2="345.65" y2="401.6" stroke="#000" stroke-width="1.35" />
<line x1="342.95" y1="401.6" x2="348.35" y2="401.6" stroke="#000" stroke-width="1.35" />
<rect x="340.4" y="412.1" width="10.45" height="50.9" fill="#000"/>
<line x1="359.15" y1="412.1" x2="359.15" y2="404.7" stroke="#1c1c1c" stroke-width="1.2" />
<line x1="356.45" y1="404.7" x2="361.85" y2="404.7" stroke="#1c1c1c" stroke-width="1.2" />
<rect x="353.9" y="412.1" width="10.45" height="50.9" fill="#9b9b9b"/>
<line x1="373.05" y1="392.3" x2="373.05" y2="379.5" stroke="#1c1c1c" stroke-width="1.2" />
<line x1="370.35" y1="379.5" x2="375.75" y2="379.5" stroke="#1c1c1c" stroke-width="1.2" />
<rect x="368.35" y="392.85" width="9.35" height="70.15" fill="#fff" stroke="#4a4a4a" stroke-width="1.1"/>
<line x1="396.35" y1="398.8" x2="396.35" y2="395.8" stroke="#000" stroke-width="1.35" />
<line x1="393.65" y1="395.8" x2="399.05" y2="395.8" stroke="#000" stroke-width="1.35" />
<rect x="391.1" y="398.8" width="10.45" height="64.2" fill="#000"/>
<line x1="409.95" y1="409.1" x2="409.95" y2="404.4" stroke="#1c1c1c" stroke-width="1.2" />
<line x1="407.25" y1="404.4" x2="412.65" y2="404.4" stroke="#1c1c1c" stroke-width="1.2" />
<rect x="404.7" y="409.1" width="10.45" height="53.9" fill="#9b9b9b"/>
<line x1="423.65" y1="407.4" x2="423.65" y2="401.6" stroke="#1c1c1c" stroke-width="1.2" />
<line x1="420.95" y1="401.6" x2="426.35" y2="401.6" stroke="#1c1c1c" stroke-width="1.2" />
<rect x="418.95" y="407.95" width="9.35" height="55.05" fill="#fff" stroke="#4a4a4a" stroke-width="1.1"/>
<line x1="283.1" y1="458.6" x2="435" y2="458.6" stroke="#000" stroke-width="1.4" stroke-dasharray="3.4 2.1"/>
<line x1="283.1" y1="361.95" x2="283.1" y2="463.65" stroke="#1a1a1a" stroke-width="1.1" />
<line x1="282.45" y1="463" x2="435" y2="463" stroke="#000" stroke-width="1.3" />
<line x1="279.5" y1="463" x2="283.1" y2="463" stroke="#000" stroke-width="1.3" />
<text x="279" y="466.83" font-size="12.7" font-weight="bold" text-anchor="end" stroke="#000" stroke-width="0.25">0</text>
<line x1="279.5" y1="442.92" x2="283.1" y2="442.92" stroke="#000" stroke-width="1.3" />
<text x="279" y="443.32" font-size="8.38" font-weight="bold" text-anchor="end" stroke="#000" stroke-width="0.25">3</text>
<text x="273.94" y="446.75" font-size="12.7" font-weight="bold" text-anchor="end" stroke="#000" stroke-width="0.25">10</text>
<text x="255.62" y="447.75" font-size="12.7" font-weight="normal" text-anchor="middle" fill="#222">×</text>
<text x="253.62" y="446.75" font-size="12.7" font-weight="bold" text-anchor="end" stroke="#000" stroke-width="0.25">2</text>
<line x1="279.5" y1="422.84" x2="283.1" y2="422.84" stroke="#000" stroke-width="1.3" />
<text x="279" y="423.24" font-size="8.38" font-weight="bold" text-anchor="end" stroke="#000" stroke-width="0.25">3</text>
<text x="273.94" y="426.67" font-size="12.7" font-weight="bold" text-anchor="end" stroke="#000" stroke-width="0.25">10</text>
<text x="255.62" y="427.67" font-size="12.7" font-weight="normal" text-anchor="middle" fill="#222">×</text>
<text x="253.62" y="426.67" font-size="12.7" font-weight="bold" text-anchor="end" stroke="#000" stroke-width="0.25">4</text>
<line x1="279.5" y1="402.76" x2="283.1" y2="402.76" stroke="#000" stroke-width="1.3" />
<text x="279" y="403.16" font-size="8.38" font-weight="bold" text-anchor="end" stroke="#000" stroke-width="0.25">3</text>
<text x="273.94" y="406.59" font-size="12.7" font-weight="bold" text-anchor="end" stroke="#000" stroke-width="0.25">10</text>
<text x="255.62" y="407.59" font-size="12.7" font-weight="normal" text-anchor="middle" fill="#222">×</text>
<text x="253.62" y="406.59" font-size="12.7" font-weight="bold" text-anchor="end" stroke="#000" stroke-width="0.25">6</text>
<line x1="279.5" y1="382.68" x2="283.1" y2="382.68" stroke="#000" stroke-width="1.3" />
<text x="279" y="383.08" font-size="8.38" font-weight="bold" text-anchor="end" stroke="#000" stroke-width="0.25">3</text>
<text x="273.94" y="386.51" font-size="12.7" font-weight="bold" text-anchor="end" stroke="#000" stroke-width="0.25">10</text>
<text x="255.62" y="387.51" font-size="12.7" font-weight="normal" text-anchor="middle" fill="#222">×</text>
<text x="253.62" y="386.51" font-size="12.7" font-weight="bold" text-anchor="end" stroke="#000" stroke-width="0.25">8</text>
<line x1="279.5" y1="362.6" x2="283.1" y2="362.6" stroke="#000" stroke-width="1.3" />
<text x="279" y="363" font-size="8.38" font-weight="bold" text-anchor="end" stroke="#000" stroke-width="0.25">4</text>
<text x="273.94" y="366.43" font-size="12.7" font-weight="bold" text-anchor="end" stroke="#000" stroke-width="0.25">10</text>
<text x="255.62" y="367.43" font-size="12.7" font-weight="normal" text-anchor="middle" fill="#222">×</text>
<text x="253.62" y="366.43" font-size="12.7" font-weight="bold" text-anchor="end" stroke="#000" stroke-width="0.25">1</text>
<line x1="308.8" y1="463" x2="308.8" y2="467" stroke="#000" stroke-width="1.3" />
<text transform="translate(308.8,480.3) scale(1.04,1)" font-size="13.5" font-weight="bold" text-anchor="middle" stroke="#000" stroke-width="0.25">2 wk</text>
<line x1="359.2" y1="463" x2="359.2" y2="467" stroke="#000" stroke-width="1.3" />
<text transform="translate(359.2,480.3) scale(1.04,1)" font-size="13.5" font-weight="bold" text-anchor="middle" stroke="#000" stroke-width="0.25">4 wk</text>
<line x1="409.9" y1="463" x2="409.9" y2="467" stroke="#000" stroke-width="1.3" />
<text transform="translate(409.9,480.3) scale(1.04,1)" font-size="13.5" font-weight="bold" text-anchor="middle" stroke="#000" stroke-width="0.25">6 wk</text>
<text transform="translate(237.9,409.9) rotate(-90)" font-size="13.2" font-weight="bold" text-anchor="middle" stroke="#000" stroke-width="0.25">NE ng/ml</text>
<polyline points="292,379.1 292,372.2 320.7,372.2 320.7,383.6" fill="none" stroke="#000" stroke-width="1.55" stroke-linejoin="miter"/>
<text x="308.98" y="373.99" font-size="18.3" font-weight="normal" text-anchor="middle" letter-spacing="0.55" stroke="#000" stroke-width="0.3">***</text>
<polyline points="290.1,437.7 290.1,393 310.3,393 310.3,397" fill="none" stroke="#000" stroke-width="1.55" stroke-linejoin="miter"/>
<text x="301.28" y="395.39" font-size="18.3" font-weight="normal" text-anchor="middle" letter-spacing="0.55" stroke="#000" stroke-width="0.3">***</text>
<rect x="515.7" y="459.8" width="10.45" height="2.3" fill="#000"/>
<line x1="534.65" y1="408.6" x2="534.65" y2="406.3" stroke="#1c1c1c" stroke-width="1.2" />
<line x1="531.95" y1="406.3" x2="537.35" y2="406.3" stroke="#1c1c1c" stroke-width="1.2" />
<rect x="529.4" y="408.6" width="10.45" height="53.5" fill="#9b9b9b"/>
<line x1="548.85" y1="409.1" x2="548.85" y2="399.3" stroke="#1c1c1c" stroke-width="1.2" />
<line x1="546.15" y1="399.3" x2="551.55" y2="399.3" stroke="#1c1c1c" stroke-width="1.2" />
<rect x="544.15" y="409.65" width="9.35" height="52.45" fill="#fff" stroke="#4a4a4a" stroke-width="1.1"/>
<line x1="572.25" y1="409.1" x2="572.25" y2="403.5" stroke="#000" stroke-width="1.35" />
<line x1="569.55" y1="403.5" x2="574.95" y2="403.5" stroke="#000" stroke-width="1.35" />
<rect x="567" y="409.1" width="10.45" height="53" fill="#000"/>
<line x1="586.15" y1="412.6" x2="586.15" y2="409.3" stroke="#1c1c1c" stroke-width="1.2" />
<line x1="583.45" y1="409.3" x2="588.85" y2="409.3" stroke="#1c1c1c" stroke-width="1.2" />
<rect x="580.9" y="412.6" width="10.45" height="49.5" fill="#9b9b9b"/>
<line x1="600.15" y1="404.4" x2="600.15" y2="395.1" stroke="#1c1c1c" stroke-width="1.2" />
<line x1="597.45" y1="395.1" x2="602.85" y2="395.1" stroke="#1c1c1c" stroke-width="1.2" />
<rect x="595.45" y="404.95" width="9.35" height="57.15" fill="#fff" stroke="#4a4a4a" stroke-width="1.1"/>
<line x1="623.45" y1="406.7" x2="623.45" y2="404.7" stroke="#000" stroke-width="1.35" />
<line x1="620.75" y1="404.7" x2="626.15" y2="404.7" stroke="#000" stroke-width="1.35" />
<rect x="618.2" y="406.7" width="10.45" height="55.4" fill="#000"/>
<line x1="637.35" y1="409.8" x2="637.35" y2="406.3" stroke="#1c1c1c" stroke-width="1.2" />
<line x1="634.65" y1="406.3" x2="640.05" y2="406.3" stroke="#1c1c1c" stroke-width="1.2" />
<rect x="632.1" y="409.8" width="10.45" height="52.3" fill="#9b9b9b"/>
<line x1="651.35" y1="412.1" x2="651.35" y2="407.4" stroke="#1c1c1c" stroke-width="1.2" />
<line x1="648.65" y1="407.4" x2="654.05" y2="407.4" stroke="#1c1c1c" stroke-width="1.2" />
<rect x="646.65" y="412.65" width="9.35" height="49.45" fill="#fff" stroke="#4a4a4a" stroke-width="1.1"/>
<line x1="509" y1="459.1" x2="657.8" y2="459.1" stroke="#444" stroke-width="1.2" stroke-dasharray="3.4 2.1"/>
<line x1="509" y1="360.15" x2="509" y2="462.75" stroke="#1a1a1a" stroke-width="1.1" />
<line x1="508.35" y1="462.1" x2="664.1" y2="462.1" stroke="#000" stroke-width="1.3" />
<line x1="505.4" y1="462.1" x2="509" y2="462.1" stroke="#000" stroke-width="1.3" />
<text x="504.8" y="465.93" font-size="12.7" font-weight="bold" text-anchor="end" stroke="#000" stroke-width="0.25">0</text>
<line x1="505.4" y1="441.84" x2="509" y2="441.84" stroke="#000" stroke-width="1.3" />
<text x="504.8" y="442.24" font-size="8.38" font-weight="bold" text-anchor="end" stroke="#000" stroke-width="0.25">3</text>
<text x="499.74" y="445.67" font-size="12.7" font-weight="bold" text-anchor="end" stroke="#000" stroke-width="0.25">10</text>
<text x="481.42" y="446.67" font-size="12.7" font-weight="normal" text-anchor="middle" fill="#222">×</text>
<text x="479.42" y="445.67" font-size="12.7" font-weight="bold" text-anchor="end" stroke="#000" stroke-width="0.25">2</text>
<line x1="505.4" y1="421.58" x2="509" y2="421.58" stroke="#000" stroke-width="1.3" />
<text x="504.8" y="421.98" font-size="8.38" font-weight="bold" text-anchor="end" stroke="#000" stroke-width="0.25">3</text>
<text x="499.74" y="425.41" font-size="12.7" font-weight="bold" text-anchor="end" stroke="#000" stroke-width="0.25">10</text>
<text x="481.42" y="426.41" font-size="12.7" font-weight="normal" text-anchor="middle" fill="#222">×</text>
<text x="479.42" y="425.41" font-size="12.7" font-weight="bold" text-anchor="end" stroke="#000" stroke-width="0.25">4</text>
<line x1="505.4" y1="401.32" x2="509" y2="401.32" stroke="#000" stroke-width="1.3" />
<text x="504.8" y="401.72" font-size="8.38" font-weight="bold" text-anchor="end" stroke="#000" stroke-width="0.25">3</text>
<text x="499.74" y="405.15" font-size="12.7" font-weight="bold" text-anchor="end" stroke="#000" stroke-width="0.25">10</text>
<text x="481.42" y="406.15" font-size="12.7" font-weight="normal" text-anchor="middle" fill="#222">×</text>
<text x="479.42" y="405.15" font-size="12.7" font-weight="bold" text-anchor="end" stroke="#000" stroke-width="0.25">6</text>
<line x1="505.4" y1="381.06" x2="509" y2="381.06" stroke="#000" stroke-width="1.3" />
<text x="504.8" y="381.46" font-size="8.38" font-weight="bold" text-anchor="end" stroke="#000" stroke-width="0.25">3</text>
<text x="499.74" y="384.89" font-size="12.7" font-weight="bold" text-anchor="end" stroke="#000" stroke-width="0.25">10</text>
<text x="481.42" y="385.89" font-size="12.7" font-weight="normal" text-anchor="middle" fill="#222">×</text>
<text x="479.42" y="384.89" font-size="12.7" font-weight="bold" text-anchor="end" stroke="#000" stroke-width="0.25">8</text>
<line x1="505.4" y1="360.8" x2="509" y2="360.8" stroke="#000" stroke-width="1.3" />
<text x="504.8" y="361.2" font-size="8.38" font-weight="bold" text-anchor="end" stroke="#000" stroke-width="0.25">4</text>
<text x="499.74" y="364.63" font-size="12.7" font-weight="bold" text-anchor="end" stroke="#000" stroke-width="0.25">10</text>
<text x="481.42" y="365.63" font-size="12.7" font-weight="normal" text-anchor="middle" fill="#222">×</text>
<text x="479.42" y="364.63" font-size="12.7" font-weight="bold" text-anchor="end" stroke="#000" stroke-width="0.25">1</text>
<line x1="535" y1="462.1" x2="535" y2="466.1" stroke="#000" stroke-width="1.3" />
<text transform="translate(535,479.8) scale(1.04,1)" font-size="13.5" font-weight="bold" text-anchor="middle" stroke="#000" stroke-width="0.25">2 wk</text>
<line x1="586.2" y1="462.1" x2="586.2" y2="466.1" stroke="#000" stroke-width="1.3" />
<text transform="translate(586.2,479.8) scale(1.04,1)" font-size="13.5" font-weight="bold" text-anchor="middle" stroke="#000" stroke-width="0.25">4 wk</text>
<line x1="637.4" y1="462.1" x2="637.4" y2="466.1" stroke="#000" stroke-width="1.3" />
<text transform="translate(637.4,479.8) scale(1.04,1)" font-size="13.5" font-weight="bold" text-anchor="middle" stroke="#000" stroke-width="0.25">6 wk</text>
<text transform="translate(464.3,408.6) rotate(-90)" font-size="13.2" font-weight="bold" text-anchor="middle" stroke="#000" stroke-width="0.25">NE ng/ml</text>
<polyline points="521,385 521,381.2 549,381.2 549,392.3" fill="none" stroke="#000" stroke-width="1.9" stroke-linejoin="miter"/>
<text x="535.28" y="385.35" font-size="19.6" font-weight="normal" text-anchor="middle" letter-spacing="0.55" stroke="#000" stroke-width="0.3">***</text>
<polyline points="519.4,444.7 519.4,397.5 537.3,397.5 537.3,400" fill="none" stroke="#000" stroke-width="1.9" stroke-linejoin="miter"/>
<text x="528.58" y="400.75" font-size="19.6" font-weight="normal" text-anchor="middle" letter-spacing="0.55" stroke="#000" stroke-width="0.3">***</text>
<line x1="77.5" y1="623" x2="77.5" y2="622.6" stroke="#000" stroke-width="1.35" />
<line x1="74.8" y1="622.6" x2="80.2" y2="622.6" stroke="#000" stroke-width="1.35" />
<rect x="71.8" y="623" width="11.35" height="2.5" fill="#000"/>
<line x1="91.7" y1="620.5" x2="91.7" y2="619.5" stroke="#1c1c1c" stroke-width="1.2" />
<line x1="89" y1="619.5" x2="94.4" y2="619.5" stroke="#1c1c1c" stroke-width="1.2" />
<rect x="86" y="620.5" width="11.35" height="5" fill="#9b9b9b"/>
<line x1="106.1" y1="621.3" x2="106.1" y2="620.8" stroke="#1c1c1c" stroke-width="1.2" />
<line x1="103.4" y1="620.8" x2="108.8" y2="620.8" stroke="#1c1c1c" stroke-width="1.2" />
<rect x="100.95" y="621.85" width="10.25" height="3.65" fill="#fff" stroke="#4a4a4a" stroke-width="1.1"/>
<line x1="129.9" y1="621.3" x2="129.9" y2="620.3" stroke="#000" stroke-width="1.35" />
<line x1="127.2" y1="620.3" x2="132.6" y2="620.3" stroke="#000" stroke-width="1.35" />
<rect x="124.2" y="621.3" width="11.35" height="4.2" fill="#000"/>
<line x1="144.3" y1="621" x2="144.3" y2="619.2" stroke="#1c1c1c" stroke-width="1.2" />
<line x1="141.6" y1="619.2" x2="147" y2="619.2" stroke="#1c1c1c" stroke-width="1.2" />
<rect x="138.6" y="621" width="11.35" height="4.5" fill="#9b9b9b"/>
<line x1="158.7" y1="622.5" x2="158.7" y2="622" stroke="#1c1c1c" stroke-width="1.2" />
<line x1="156" y1="622" x2="161.4" y2="622" stroke="#1c1c1c" stroke-width="1.2" />
<rect x="153.55" y="623.05" width="10.25" height="2.45" fill="#fff" stroke="#4a4a4a" stroke-width="1.1"/>
<line x1="182.1" y1="620.5" x2="182.1" y2="620.2" stroke="#000" stroke-width="1.35" />
<line x1="179.4" y1="620.2" x2="184.8" y2="620.2" stroke="#000" stroke-width="1.35" />
<rect x="176.4" y="620.5" width="11.35" height="5" fill="#000"/>
<line x1="196.5" y1="620.5" x2="196.5" y2="618.5" stroke="#1c1c1c" stroke-width="1.2" />
<line x1="193.8" y1="618.5" x2="199.2" y2="618.5" stroke="#1c1c1c" stroke-width="1.2" />
<rect x="190.8" y="620.5" width="11.35" height="5" fill="#9b9b9b"/>
<line x1="210.9" y1="621.3" x2="210.9" y2="620.6" stroke="#1c1c1c" stroke-width="1.2" />
<line x1="208.2" y1="620.6" x2="213.6" y2="620.6" stroke="#1c1c1c" stroke-width="1.2" />
<rect x="205.75" y="621.85" width="10.25" height="3.65" fill="#fff" stroke="#4a4a4a" stroke-width="1.1"/>
<line x1="65.3" y1="520.45" x2="65.3" y2="626.15" stroke="#1a1a1a" stroke-width="1.1" />
<line x1="64.65" y1="625.5" x2="222.6" y2="625.5" stroke="#000" stroke-width="1.3" />
<line x1="61.7" y1="625.5" x2="65.3" y2="625.5" stroke="#000" stroke-width="1.3" />
<text x="60" y="629.3" font-size="12.6" font-weight="bold" text-anchor="end" stroke="#000" stroke-width="0.25">0</text>
<line x1="61.7" y1="604.62" x2="65.3" y2="604.62" stroke="#000" stroke-width="1.3" />
<text x="60" y="608.42" font-size="12.6" font-weight="bold" text-anchor="end" stroke="#000" stroke-width="0.25">500</text>
<line x1="61.7" y1="583.74" x2="65.3" y2="583.74" stroke="#000" stroke-width="1.3" />
<text x="60" y="587.54" font-size="12.6" font-weight="bold" text-anchor="end" stroke="#000" stroke-width="0.25">1000</text>
<line x1="61.7" y1="562.86" x2="65.3" y2="562.86" stroke="#000" stroke-width="1.3" />
<text x="60" y="566.66" font-size="12.6" font-weight="bold" text-anchor="end" stroke="#000" stroke-width="0.25">1500</text>
<line x1="61.7" y1="541.98" x2="65.3" y2="541.98" stroke="#000" stroke-width="1.3" />
<text x="60" y="545.78" font-size="12.6" font-weight="bold" text-anchor="end" stroke="#000" stroke-width="0.25">2000</text>
<line x1="61.7" y1="521.1" x2="65.3" y2="521.1" stroke="#000" stroke-width="1.3" />
<text x="60" y="524.9" font-size="12.6" font-weight="bold" text-anchor="end" stroke="#000" stroke-width="0.25">2500</text>
<line x1="91.3" y1="625.5" x2="91.3" y2="629.5" stroke="#000" stroke-width="1.3" />
<text transform="translate(91.3,642.6) scale(1.06,1)" font-size="13.9" font-weight="bold" text-anchor="middle" stroke="#000" stroke-width="0.25">2 wk</text>
<line x1="143.6" y1="625.5" x2="143.6" y2="629.5" stroke="#000" stroke-width="1.3" />
<text transform="translate(143.6,642.6) scale(1.06,1)" font-size="13.9" font-weight="bold" text-anchor="middle" stroke="#000" stroke-width="0.25">4 wk</text>
<line x1="196" y1="625.5" x2="196" y2="629.5" stroke="#000" stroke-width="1.3" />
<text transform="translate(196,642.6) scale(1.06,1)" font-size="13.9" font-weight="bold" text-anchor="middle" stroke="#000" stroke-width="0.25">6 wk</text>
<text transform="translate(17.7,570.5) rotate(-90)" font-size="13.6" font-weight="bold" text-anchor="middle" stroke="#000" stroke-width="0.25">DA ng/ml</text>
<line x1="294.7" y1="623.8" x2="294.7" y2="623" stroke="#000" stroke-width="1.35" />
<line x1="292" y1="623" x2="297.4" y2="623" stroke="#000" stroke-width="1.35" />
<rect x="289.3" y="623.8" width="10.75" height="2.8" fill="#000"/>
<line x1="308.2" y1="624.3" x2="308.2" y2="623.8" stroke="#1c1c1c" stroke-width="1.2" />
<line x1="305.5" y1="623.8" x2="310.9" y2="623.8" stroke="#1c1c1c" stroke-width="1.2" />
<rect x="302.8" y="624.3" width="10.75" height="2.3" fill="#9b9b9b"/>
<line x1="322.2" y1="624" x2="322.2" y2="623.4" stroke="#1c1c1c" stroke-width="1.2" />
<line x1="319.5" y1="623.4" x2="324.9" y2="623.4" stroke="#1c1c1c" stroke-width="1.2" />
<rect x="317.35" y="624.55" width="9.65" height="2.05" fill="#fff" stroke="#4a4a4a" stroke-width="1.1"/>
<line x1="345.5" y1="625" x2="345.5" y2="624.6" stroke="#000" stroke-width="1.35" />
<line x1="342.8" y1="624.6" x2="348.2" y2="624.6" stroke="#000" stroke-width="1.35" />
<rect x="340.1" y="625" width="10.75" height="1.6" fill="#000"/>
<line x1="359.1" y1="624.6" x2="359.1" y2="624" stroke="#1c1c1c" stroke-width="1.2" />
<line x1="356.4" y1="624" x2="361.8" y2="624" stroke="#1c1c1c" stroke-width="1.2" />
<rect x="353.7" y="624.6" width="10.75" height="2" fill="#9b9b9b"/>
<line x1="373.5" y1="625" x2="373.5" y2="624.6" stroke="#1c1c1c" stroke-width="1.2" />
<line x1="370.8" y1="624.6" x2="376.2" y2="624.6" stroke="#1c1c1c" stroke-width="1.2" />
<rect x="368.65" y="625.55" width="9.65" height="1.05" fill="#fff" stroke="#4a4a4a" stroke-width="1.1"/>
<line x1="396.3" y1="624.8" x2="396.3" y2="624.3" stroke="#000" stroke-width="1.35" />
<line x1="393.6" y1="624.3" x2="399" y2="624.3" stroke="#000" stroke-width="1.35" />
<rect x="390.9" y="624.8" width="10.75" height="1.8" fill="#000"/>
<line x1="410.2" y1="625" x2="410.2" y2="624.6" stroke="#1c1c1c" stroke-width="1.2" />
<line x1="407.5" y1="624.6" x2="412.9" y2="624.6" stroke="#1c1c1c" stroke-width="1.2" />
<rect x="404.8" y="625" width="10.75" height="1.6" fill="#9b9b9b"/>
<line x1="424.3" y1="625.3" x2="424.3" y2="625" stroke="#1c1c1c" stroke-width="1.2" />
<line x1="421.6" y1="625" x2="427" y2="625" stroke="#1c1c1c" stroke-width="1.2" />
<rect x="419.45" y="625.85" width="9.65" height="0.75" fill="#fff" stroke="#4a4a4a" stroke-width="1.1"/>
<line x1="283.3" y1="525.55" x2="283.3" y2="627.25" stroke="#1a1a1a" stroke-width="1.1" />
<line x1="282.65" y1="626.6" x2="435.7" y2="626.6" stroke="#000" stroke-width="1.3" />
<line x1="279.7" y1="626.6" x2="283.3" y2="626.6" stroke="#000" stroke-width="1.3" />
<text x="278.7" y="630.43" font-size="12.7" font-weight="bold" text-anchor="end" stroke="#000" stroke-width="0.25">0</text>
<line x1="279.7" y1="606.52" x2="283.3" y2="606.52" stroke="#000" stroke-width="1.3" />
<text x="278.7" y="610.35" font-size="12.7" font-weight="bold" text-anchor="end" stroke="#000" stroke-width="0.25">500</text>
<line x1="279.7" y1="586.44" x2="283.3" y2="586.44" stroke="#000" stroke-width="1.3" />
<text x="278.7" y="590.27" font-size="12.7" font-weight="bold" text-anchor="end" stroke="#000" stroke-width="0.25">1000</text>
<line x1="279.7" y1="566.36" x2="283.3" y2="566.36" stroke="#000" stroke-width="1.3" />
<text x="278.7" y="570.19" font-size="12.7" font-weight="bold" text-anchor="end" stroke="#000" stroke-width="0.25">1500</text>
<line x1="279.7" y1="546.28" x2="283.3" y2="546.28" stroke="#000" stroke-width="1.3" />
<text x="278.7" y="550.11" font-size="12.7" font-weight="bold" text-anchor="end" stroke="#000" stroke-width="0.25">2000</text>
<line x1="279.7" y1="526.2" x2="283.3" y2="526.2" stroke="#000" stroke-width="1.3" />
<text x="278.7" y="530.03" font-size="12.7" font-weight="bold" text-anchor="end" stroke="#000" stroke-width="0.25">2500</text>
<line x1="308.4" y1="626.6" x2="308.4" y2="630.6" stroke="#000" stroke-width="1.3" />
<text transform="translate(308.4,642.6) scale(1.04,1)" font-size="13.5" font-weight="bold" text-anchor="middle" stroke="#000" stroke-width="0.25">2 wk</text>
<line x1="359" y1="626.6" x2="359" y2="630.6" stroke="#000" stroke-width="1.3" />
<text transform="translate(359,642.6) scale(1.04,1)" font-size="13.5" font-weight="bold" text-anchor="middle" stroke="#000" stroke-width="0.25">4 wk</text>
<line x1="409.8" y1="626.6" x2="409.8" y2="630.6" stroke="#000" stroke-width="1.3" />
<text transform="translate(409.8,642.6) scale(1.04,1)" font-size="13.5" font-weight="bold" text-anchor="middle" stroke="#000" stroke-width="0.25">6 wk</text>
<text transform="translate(237.5,574) rotate(-90)" font-size="13.2" font-weight="bold" text-anchor="middle" stroke="#000" stroke-width="0.25">DA ng/ml</text>
<line x1="527.05" y1="621.8" x2="527.05" y2="620.6" stroke="#000" stroke-width="1.35" />
<line x1="524.35" y1="620.6" x2="529.75" y2="620.6" stroke="#000" stroke-width="1.35" />
<rect x="521.8" y="621.8" width="10.45" height="4.8" fill="#000"/>
<line x1="540.15" y1="559.7" x2="540.15" y2="535.7" stroke="#1c1c1c" stroke-width="1.2" />
<line x1="537.45" y1="535.7" x2="542.85" y2="535.7" stroke="#1c1c1c" stroke-width="1.2" />
<rect x="534.9" y="559.7" width="10.45" height="66.9" fill="#9b9b9b"/>
<line x1="554.55" y1="583.8" x2="554.55" y2="570.6" stroke="#1c1c1c" stroke-width="1.2" />
<line x1="551.85" y1="570.6" x2="557.25" y2="570.6" stroke="#1c1c1c" stroke-width="1.2" />
<rect x="549.85" y="584.35" width="9.35" height="42.25" fill="#fff" stroke="#4a4a4a" stroke-width="1.1"/>
<line x1="577.45" y1="604.2" x2="577.45" y2="600.1" stroke="#000" stroke-width="1.35" />
<line x1="574.75" y1="600.1" x2="580.15" y2="600.1" stroke="#000" stroke-width="1.35" />
<rect x="572.2" y="604.2" width="10.45" height="22.4" fill="#000"/>
<line x1="591.35" y1="609.5" x2="591.35" y2="601.4" stroke="#1c1c1c" stroke-width="1.2" />
<line x1="588.65" y1="601.4" x2="594.05" y2="601.4" stroke="#1c1c1c" stroke-width="1.2" />
<rect x="586.1" y="609.5" width="10.45" height="17.1" fill="#9b9b9b"/>
<line x1="605.25" y1="604.2" x2="605.25" y2="597.5" stroke="#1c1c1c" stroke-width="1.2" />
<line x1="602.55" y1="597.5" x2="607.95" y2="597.5" stroke="#1c1c1c" stroke-width="1.2" />
<rect x="600.55" y="604.75" width="9.35" height="21.85" fill="#fff" stroke="#4a4a4a" stroke-width="1.1"/>
<line x1="628.65" y1="581.9" x2="628.65" y2="573.5" stroke="#000" stroke-width="1.35" />
<line x1="625.95" y1="573.5" x2="631.35" y2="573.5" stroke="#000" stroke-width="1.35" />
<rect x="623.4" y="581.9" width="10.45" height="44.7" fill="#000"/>
<line x1="642.25" y1="594.6" x2="642.25" y2="586.2" stroke="#1c1c1c" stroke-width="1.2" />
<line x1="639.55" y1="586.2" x2="644.95" y2="586.2" stroke="#1c1c1c" stroke-width="1.2" />
<rect x="637" y="594.6" width="10.45" height="32" fill="#9b9b9b"/>
<line x1="656.25" y1="585.5" x2="656.25" y2="564.1" stroke="#1c1c1c" stroke-width="1.2" />
<line x1="653.55" y1="564.1" x2="658.95" y2="564.1" stroke="#1c1c1c" stroke-width="1.2" />
<rect x="651.55" y="586.05" width="9.35" height="40.55" fill="#fff" stroke="#4a4a4a" stroke-width="1.1"/>
<line x1="514.7" y1="624.2" x2="668.6" y2="624.2" stroke="#000" stroke-width="1.3" stroke-dasharray="3.4 2.1"/>
<line x1="514.7" y1="524.95" x2="514.7" y2="627.25" stroke="#1a1a1a" stroke-width="1.1" />
<line x1="514.05" y1="626.6" x2="668.6" y2="626.6" stroke="#000" stroke-width="1.3" />
<line x1="511.1" y1="626.6" x2="514.7" y2="626.6" stroke="#000" stroke-width="1.3" />
<text x="510.1" y="630.43" font-size="12.7" font-weight="bold" text-anchor="end" stroke="#000" stroke-width="0.25">0</text>
<line x1="511.1" y1="606.4" x2="514.7" y2="606.4" stroke="#000" stroke-width="1.3" />
<text x="510.1" y="610.23" font-size="12.7" font-weight="bold" text-anchor="end" stroke="#000" stroke-width="0.25">500</text>
<line x1="511.1" y1="586.2" x2="514.7" y2="586.2" stroke="#000" stroke-width="1.3" />
<text x="510.1" y="590.03" font-size="12.7" font-weight="bold" text-anchor="end" stroke="#000" stroke-width="0.25">1000</text>
<line x1="511.1" y1="566" x2="514.7" y2="566" stroke="#000" stroke-width="1.3" />
<text x="510.1" y="569.83" font-size="12.7" font-weight="bold" text-anchor="end" stroke="#000" stroke-width="0.25">1500</text>
<line x1="511.1" y1="545.8" x2="514.7" y2="545.8" stroke="#000" stroke-width="1.3" />
<text x="510.1" y="549.63" font-size="12.7" font-weight="bold" text-anchor="end" stroke="#000" stroke-width="0.25">2000</text>
<line x1="511.1" y1="525.6" x2="514.7" y2="525.6" stroke="#000" stroke-width="1.3" />
<text x="510.1" y="529.43" font-size="12.7" font-weight="bold" text-anchor="end" stroke="#000" stroke-width="0.25">2500</text>
<line x1="540.8" y1="626.6" x2="540.8" y2="630.6" stroke="#000" stroke-width="1.3" />
<text transform="translate(540.8,642.6) scale(1.04,1)" font-size="13.5" font-weight="bold" text-anchor="middle" stroke="#000" stroke-width="0.25">2 wk</text>
<line x1="591.4" y1="626.6" x2="591.4" y2="630.6" stroke="#000" stroke-width="1.3" />
<text transform="translate(591.4,642.6) scale(1.04,1)" font-size="13.5" font-weight="bold" text-anchor="middle" stroke="#000" stroke-width="0.25">4 wk</text>
<line x1="642.1" y1="626.6" x2="642.1" y2="630.6" stroke="#000" stroke-width="1.3" />
<text transform="translate(642.1,642.6) scale(1.04,1)" font-size="13.5" font-weight="bold" text-anchor="middle" stroke="#000" stroke-width="0.25">6 wk</text>
<text transform="translate(468.7,574) rotate(-90)" font-size="13.2" font-weight="bold" text-anchor="middle" stroke="#000" stroke-width="0.25">DA ng/ml</text>
<polyline points="528.1,587.4 528.1,529.2 540.5,529.2 540.5,532.6" fill="none" stroke="#000" stroke-width="1.85" stroke-linejoin="miter"/>
<text x="534.48" y="531.65" font-size="19" font-weight="normal" text-anchor="middle" letter-spacing="0.55" stroke="#000" stroke-width="0.3">**</text>
<polyline points="543.3,534.5 543.3,529.2 590.6,529.2 590.6,595.8" fill="none" stroke="#000" stroke-width="1.85" stroke-linejoin="miter"/>
<text x="567.78" y="532.45" font-size="19" font-weight="normal" text-anchor="middle" letter-spacing="0.55" stroke="#000" stroke-width="0.3">*</text>
</svg>
</body></html>
